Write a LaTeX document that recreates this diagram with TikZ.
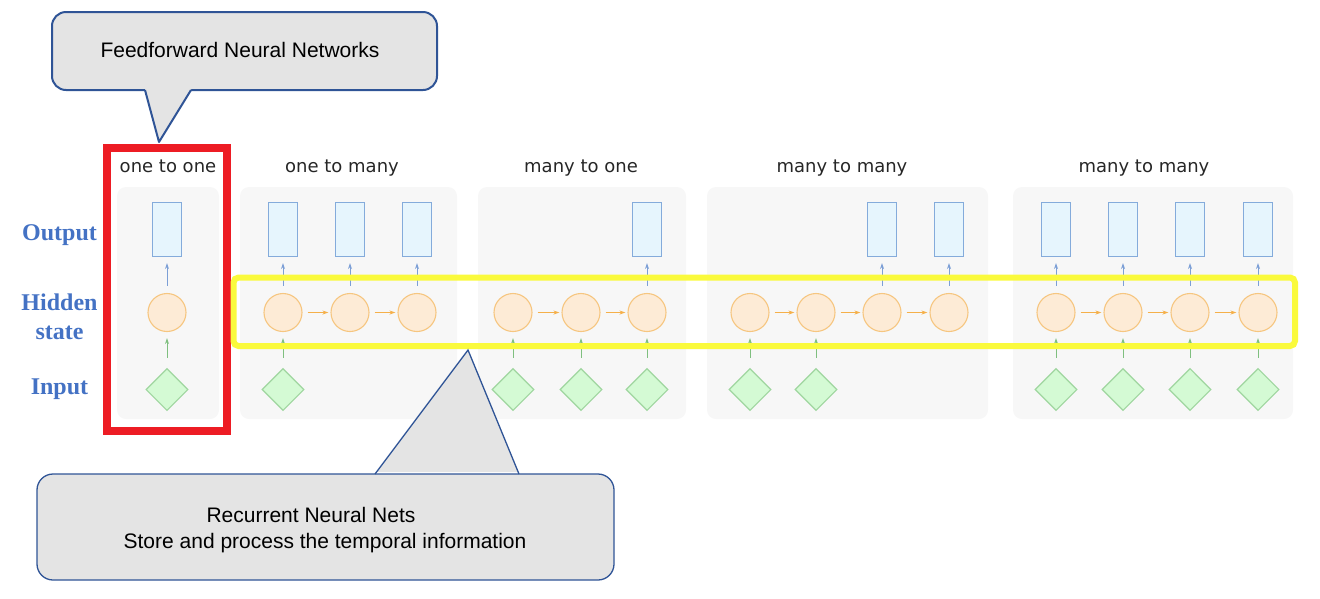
\documentclass[tikz,border=0pt]{standalone}
\usepackage{fontspec}
\setmainfont{Liberation Sans}
\newfontfamily\titlefont{DejaVu Sans}
\newfontfamily\labelfont{Liberation Serif}
\usetikzlibrary{arrows.meta}
\definecolor{cbord}{HTML}{2F5496}
\definecolor{cfill}{HTML}{E4E4E4}
\definecolor{panelc}{HTML}{F7F7F7}
\definecolor{outf}{HTML}{E6F5FD}
\definecolor{outd}{HTML}{84ABDB}
\definecolor{hidf}{HTML}{FDEBD6}
\definecolor{hidd}{HTML}{F6C680}
\definecolor{inf}{HTML}{D4FAD4}
\definecolor{ind}{HTML}{9FD69F}
\definecolor{lblue}{HTML}{4472C4}
\definecolor{redc}{HTML}{ED1C24}
\definecolor{yelc}{HTML}{FAFA3C}
\definecolor{arrb}{HTML}{7C9FD6}
\definecolor{arro}{HTML}{F5B04A}
\definecolor{arrg}{HTML}{7FBF7F}
\tikzset{
  x=1pt, y=-1pt,
  panel/.style={fill=panelc, draw=none, rounded corners=9pt},
  outbox/.style={draw=outd, fill=outf, line width=1.1pt, minimum width=29pt, minimum height=54pt, inner sep=0pt},
  hidnode/.style={circle, draw=hidd, fill=hidf, line width=1.1pt, minimum size=38pt, inner sep=0pt},
  innode/.style={diamond, draw=ind, fill=inf, line width=1.1pt, minimum size=42pt, inner sep=0pt, aspect=1},
  uparr/.style={draw=arrb, line width=0.8pt, -{Stealth[length=6pt,width=4pt]}, shorten <=7pt, shorten >=6pt},
  inarr/.style={draw=arrg, line width=0.8pt, -{Stealth[length=6pt,width=4pt]}, shorten <=10pt, shorten >=6pt},
  rarr/.style={draw=arro, line width=0.8pt, -{Stealth[length=6pt,width=4pt]}, shorten <=5pt, shorten >=2pt},
  ttl/.style={font=\titlefont\fontsize{18}{20}\selectfont, text=black!85, anchor=base, inner sep=0pt},
  lbl/.style={font=\labelfont\bfseries\fontsize{24}{26}\selectfont, text=lblue, anchor=base, inner sep=0pt},
  ctext/.style={font=\fontsize{21}{24}\selectfont, text=black, anchor=base, inner sep=0pt}
}
\usetikzlibrary{shapes.geometric}
\begin{document}
\begin{tikzpicture}
\useasboundingbox (0,0) rectangle (1320,598);
% panels
\fill[panel] (117,187) rectangle (219,419);
\fill[panel] (240,187) rectangle (457,419);
\fill[panel] (478,187) rectangle (686,419);
\fill[panel] (707,187) rectangle (988,419);
\fill[panel] (1013,187) rectangle (1293,419);
% titles
\node[ttl] (t1) at (168,172.5) {one to one};
\node[ttl] (t2) at (342,172.5) {one to many};
\node[ttl] (t3) at (581,172.5) {many to one};
\node[ttl] (t4) at (842,172.5) {many to many};
\node[ttl] (t5) at (1144,172.5) {many to many};
% row labels
\node[lbl] (lo) at (59.5,240.5) {Output};
\node[lbl] (lh) at (59.5,310) {Hidden};
\node[lbl] (ls) at (59.5,339.5) {state};
\node[lbl] (li) at (59.5,394) {Input};
% panel 1
\node[hidnode] (h1a) at (167,312.5) {};
\node[outbox] (o1a) at (167,229.5) {};
\node[innode] (i1a) at (167,389.5) {};
\draw[uparr] (h1a) -- (o1a);
\draw[inarr] (i1a) -- (h1a);
% panel 2
\foreach \n/\x in {a/283,b/350,c/417}{
  \node[hidnode] (h2\n) at (\x,312.5) {};
  \node[outbox] (o2\n) at (\x,229.5) {};
  \draw[uparr] (h2\n) -- (o2\n);
}
\node[innode] (i2a) at (283,389.5) {};
\draw[inarr] (i2a) -- (h2a);
\draw[rarr] (h2a) -- (h2b);
\draw[rarr] (h2b) -- (h2c);
% panel 3
\foreach \n/\x in {a/513,b/581,c/647}{
  \node[hidnode] (h3\n) at (\x,312.5) {};
  \node[innode] (i3\n) at (\x,389.5) {};
  \draw[inarr] (i3\n) -- (h3\n);
}
\node[outbox] (o3c) at (647,229.5) {};
\draw[uparr] (h3c) -- (o3c);
\draw[rarr] (h3a) -- (h3b);
\draw[rarr] (h3b) -- (h3c);
% panel 4
\foreach \n/\x in {a/750,b/816,c/882,d/949}{
  \node[hidnode] (h4\n) at (\x,312.5) {};
}
\node[innode] (i4a) at (750,389.5) {};
\node[innode] (i4b) at (816,389.5) {};
\draw[inarr] (i4a) -- (h4a);
\draw[inarr] (i4b) -- (h4b);
\node[outbox] (o4c) at (882,229.5) {};
\node[outbox] (o4d) at (949,229.5) {};
\draw[uparr] (h4c) -- (o4c);
\draw[uparr] (h4d) -- (o4d);
\draw[rarr] (h4a) -- (h4b);
\draw[rarr] (h4b) -- (h4c);
\draw[rarr] (h4c) -- (h4d);
% panel 5
\foreach \n/\x in {a/1056,b/1123,c/1190,d/1258}{
  \node[hidnode] (h5\n) at (\x,312.5) {};
  \node[outbox] (o5\n) at (\x,229.5) {};
  \node[innode] (i5\n) at (\x,389.5) {};
  \draw[uparr] (h5\n) -- (o5\n);
  \draw[inarr] (i5\n) -- (h5\n);
}
\draw[rarr] (h5a) -- (h5b);
\draw[rarr] (h5b) -- (h5c);
\draw[rarr] (h5c) -- (h5d);
% highlight frames
\draw[redc, line width=8pt] (107,147.5) rectangle (227,431);
\draw[yelc, line width=6pt, rounded corners=5pt] (233.5,277.5) rectangle (1295,346);
% top callout
\draw[cbord, fill=cfill, line width=2pt, rounded corners=14pt] (52,12) rectangle (437,90);
\fill[cfill] (145,87) -- (145,90) -- (159,142) -- (191,90) -- (191,87) -- cycle;
\draw[cbord, line width=2pt, line join=round] (145,90) -- (159,142) -- (191,90);
\node[ctext] (ff) at (240,57.5) {Feedforward Neural Networks};
% bottom callout
\draw[cbord, fill=cfill, line width=1.3pt, rounded corners=16pt] (37,474) rectangle (614,580);
\fill[cfill] (375,472) -- (375,474) -- (468,350) -- (519,474) -- (519,472) -- cycle;
\draw[cbord, line width=1.3pt] (375,474) -- (468,350) -- (519,474);
\node[ctext] (rn1) at (311,522.5) {Recurrent Neural Nets};
\node[ctext] (rn2) at (325,548) {Store and process the temporal information};
\end{tikzpicture}
\end{document}
